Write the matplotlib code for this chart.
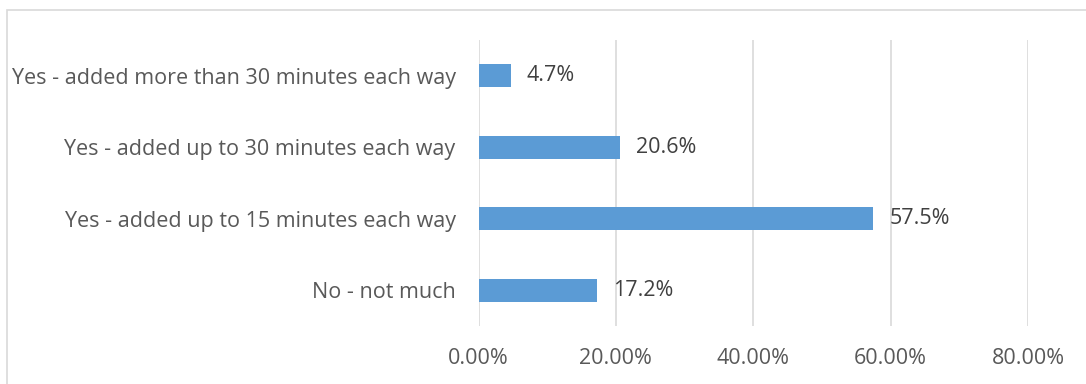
import matplotlib
matplotlib.use("Agg")
import matplotlib.pyplot as plt
from matplotlib.patches import Rectangle
from matplotlib.ticker import FuncFormatter

categories = ["No - not much",
              "Yes - added up to 15 minutes each way",
              "Yes - added up to 30 minutes each way",
              "Yes - added more than 30 minutes each way"]
values = [0.172, 0.575, 0.206, 0.047]
labels = ["17.2%", "57.5%", "20.6%", "4.7%"]
xticks = [0.0, 0.2, 0.4, 0.6, 0.8]

plt.rcParams['font.family'] = ['Open Sans', 'DejaVu Sans']

W, H = 1086, 384
FS = 15.5
fig = plt.figure(figsize=(W/100, H/100), dpi=100)
ax = fig.add_axes([478.5/W, 1-326/H, (1028-478.5)/W, (326-40)/H])

y = list(range(len(categories)))
ax.barh(y, values, height=0.32, color="#5B9BD5", zorder=3)
for yi, v, lab in zip(y, values, labels):
    ax.annotate(lab, (v, yi), xytext=(16, 0), textcoords="offset pixels",
                va="center", ha="left", fontsize=FS, color="#404040")

ax.set_xlim(0, 0.8)
ax.set_ylim(-0.5, len(categories)-0.5)
ax.set_xticks(xticks)
ax.xaxis.set_major_formatter(FuncFormatter(lambda v, p: f"{v*100:.2f}%"))
ax.set_yticks(y)
ax.set_yticklabels(categories)
ax.tick_params(axis='both', length=0, labelsize=FS, labelcolor="#595959")
ax.tick_params(axis='y', pad=16.5)
ax.tick_params(axis='x', pad=16)
ax.grid(axis='x', color="#D9D9D9", linewidth=1.2, zorder=0)
for s in ax.spines.values():
    s.set_visible(False)

fig.patches.append(Rectangle((6.5/W, -20/H), (1200)/W, (H - 10 + 20)/H, transform=fig.transFigure,
                             fill=False, edgecolor="#D9D9D9", linewidth=1.2))

fig.savefig("out.png", dpi=100)
